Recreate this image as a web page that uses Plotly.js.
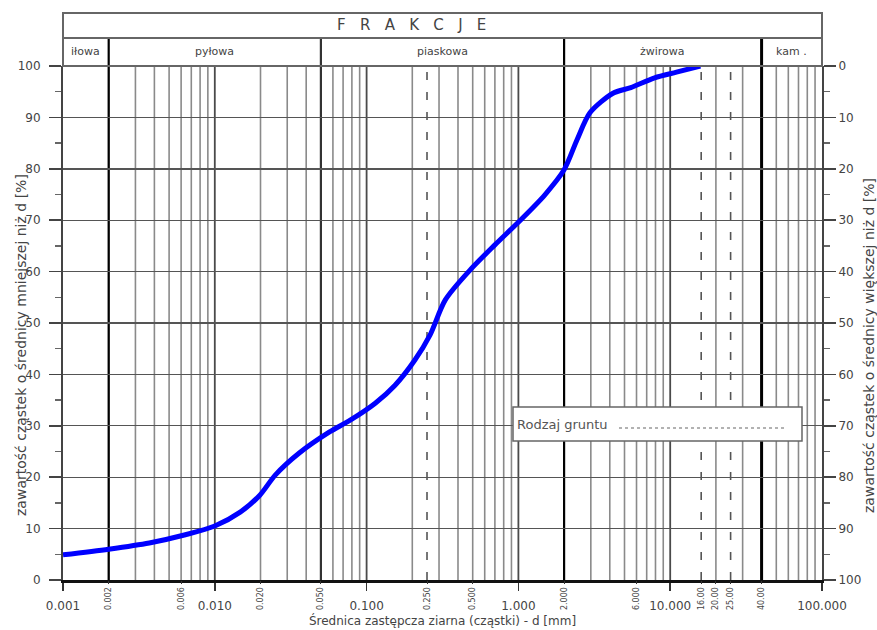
<!DOCTYPE html>
<html>
<head>
<meta charset="utf-8">
<script src="https://cdn.plot.ly/plotly-3.0.1.min.js"></script>
<style>html,body{margin:0;padding:0;background:#fff;}#chart{width:877px;height:630px;}</style>
</head>
<body>
<div id="chart"></div>
<script>
// grain diameter d [mm] and percent finer
const grainSize = [0.001, 0.002, 0.0037, 0.0064, 0.01, 0.0147, 0.0198, 0.025, 0.036, 0.057, 0.078, 0.114, 0.154, 0.208, 0.262, 0.33, 0.48, 0.70, 1.03, 1.49, 2.0, 2.43, 2.96, 4.2, 5.5, 7.9, 11.0, 15.8];
const percentFiner = [4.9, 6.0, 7.2, 8.8, 10.5, 13.2, 16.5, 20.4, 24.7, 28.8, 31.1, 34.4, 37.9, 42.8, 47.7, 54.5, 60.3, 65.2, 70.0, 74.9, 79.8, 85.6, 90.9, 94.7, 95.8, 97.7, 98.8, 100];

const decadeTicks = [0.001, 0.01, 0.1, 1, 10, 100];
const decadeLabels = ["0.001", "0.010", "0.100", "1.000", "10.000", "100.000"];
const sieveTicks = [0.002, 0.006, 0.02, 0.05, 0.25, 0.5, 2, 6, 16, 20, 25, 40];
const sieveLabels = ["0.002", "0.006", "0.020", "0.050", "0.250", "0.500", "2.000", "6.000", "16.00", "20.00", "25.00", "40.00"];

const fractionNames = ["iłowa", "pyłowa", "piaskowa", "żwirowa", "kam ."];
const fractionBounds = [0.001, 0.002, 0.05, 2, 40, 100];
const dashedLines = [0.25, 16, 25];
const gridMultipliers = [1, 2, 3, 4, 5, 6, 7, 8, 9];

const headerTitle = "F\u00a0\u00a0 R\u00a0\u00a0 A\u00a0\u00a0 K\u00a0\u00a0 C\u00a0\u00a0 J\u00a0\u00a0 E";
const yTitleLeft = "zawartość cząstek o średnicy mniejszej niż d [%]";
const yTitleRight = "zawartość cząstek o średnicy większej niż d [%]";
const xTitle = "Średnica zastępcza ziarna (cząstki) - d [mm]";
const soilLabel = "Rodzaj gruntu";

const L = Math.log10;
const FONT = 'DejaVu Sans, Liberation Sans, Arial, sans-serif';
// pixel -> paper helpers (plot area: x 63..822, y 66..580)
const px = p => (p - 63) / 759;
const py = p => (580 - p) / 514;

const shapes = [];
// vertical log grid (shapes on log axes take data values)
for (let e = -3; e <= 1; e++) {
  gridMultipliers.forEach(m => {
    const v = m * Math.pow(10, e);
    if (e === -3 && m === 1) return;
    const isDecade = m === 1;
    shapes.push({type: 'line', xref: 'x', yref: 'paper', x0: v, x1: v, y0: 0, y1: 1,
      line: {color: isDecade ? '#4a4a4a' : '#8a8a8a', width: isDecade ? 1.8 : 1.6}, layer: 'below'});
  });
}
// dashed sieve lines
dashedLines.forEach(v => {
  shapes.push({type: 'line', xref: 'x', yref: 'paper', x0: v, x1: v, y0: 0, y1: 1,
    line: {color: '#555', width: 1.6, dash: '8px,12px'}, layer: 'below'});
});
// fraction boundary lines (plot + header)
fractionBounds.slice(1, -1).forEach((v, i) => {
  shapes.push({type: 'line', xref: 'x', yref: 'paper', x0: v, x1: v, y0: 0, y1: py(38),
    line: {color: i === 1 ? '#333' : '#000', width: i === 3 ? 3 : 2.2}, layer: 'below'});
});
// header frame
shapes.push({type: 'rect', xref: 'paper', yref: 'paper', x0: 0, x1: 1, y0: 1, y1: py(13), line: {color: '#666', width: 2}});
shapes.push({type: 'line', xref: 'paper', yref: 'paper', x0: 0, x1: 1, y0: py(38), y1: py(38), line: {color: '#666', width: 2}});
// soil type box
shapes.push({type: 'rect', xref: 'paper', yref: 'paper', x0: px(513), x1: px(802),
  y0: py(441), y1: py(407), fillcolor: '#fff', line: {color: '#666', width: 1.5}, layer: 'above'});
shapes.push({type: 'line', xref: 'paper', yref: 'paper', x0: px(619), x1: px(787),
  y0: py(428), y1: py(428), line: {color: '#999', width: 1.5, dash: 'dot'}, layer: 'above'});

const annotations = [];
annotations.push({xref: 'paper', yref: 'paper', x: px(411), y: py(25), yanchor: 'middle', text: headerTitle, showarrow: false,
  font: {family: FONT, size: 15, color: '#444'}});
fractionNames.forEach((n, i) => {
  const mid = (L(fractionBounds[i]) + L(fractionBounds[i + 1])) / 2; // annotations on log axes use log values
  annotations.push({xref: 'x', yref: 'paper', x: mid, y: py(51), yanchor: 'middle', text: n, showarrow: false,
    font: {family: FONT, size: 11, color: '#444'}});
});
annotations.push({xref: 'paper', yref: 'paper', x: px(515), y: py(424), xanchor: 'left', yanchor: 'middle',
  text: soilLabel, showarrow: false, font: {family: FONT, size: 13, color: '#555'}});
annotations.push({xref: 'paper', yref: 'paper', x: px(21), y: py(345), xanchor: 'center', yanchor: 'middle', textangle: -90,
  text: yTitleLeft, showarrow: false, font: {family: FONT, size: 14, color: '#444'}});
annotations.push({xref: 'paper', yref: 'paper', x: px(869), y: py(346), xanchor: 'center', yanchor: 'middle', textangle: -90,
  text: yTitleRight, showarrow: false, font: {family: FONT, size: 14, color: '#444'}});

const data = [
  {x: grainSize, y: percentFiner, type: 'scatter', mode: 'lines', line: {color: '#0000ff', width: 5, shape: 'spline', smoothing: 0.8}, hoverinfo: 'x+y', showlegend: false},
  {x: [0.001, 100], y: [100, 0], xaxis: 'x2', yaxis: 'y2', type: 'scatter', mode: 'markers', marker: {opacity: 0}, showlegend: false, hoverinfo: 'skip'}
];

const layout = {
  width: 877, height: 630,
  margin: {l: 63, r: 55, t: 66, b: 50},
  paper_bgcolor: '#fff', plot_bgcolor: '#fff',
  font: {family: FONT, size: 11, color: '#333'},
  showlegend: false,
  xaxis: {
    type: 'log', range: [-3, 2], tickmode: 'array', tickvals: decadeTicks, ticktext: decadeLabels,
    ticks: 'outside', ticklen: 8, tickcolor: '#333', tickwidth: 1.5, ticklabelstandoff: 5,
    showgrid: false, zeroline: false, showline: true, linecolor: '#111', linewidth: 2.5, mirror: false,
    tickfont: {family: FONT, size: 12, color: '#444'},
    title: {text: xTitle, font: {family: FONT, size: 12, color: '#444'}, standoff: 0}
  },
  xaxis2: {
    type: 'log', range: [-3, 2], overlaying: 'x', anchor: 'y', side: 'bottom', tickmode: 'array',
    tickvals: sieveTicks, ticktext: sieveLabels, tickangle: -90, ticks: 'outside', ticklen: 3, tickcolor: '#333',
    showgrid: false, zeroline: false, showline: false,
    tickfont: {family: FONT, size: 8, color: '#444'}
  },
  yaxis: {
    range: [0, 100], dtick: 10, ticks: 'outside', ticklen: 12, tickcolor: '#444', tickwidth: 1.5,
    ticklabelstandoff: 6,
    showgrid: true, gridcolor: '#555', gridwidth: 1.4, zeroline: false, showline: true, linecolor: '#444', linewidth: 2,
    minor: {dtick: 5, ticks: 'outside', ticklen: 6, tickcolor: '#666', showgrid: false},
    tickfont: {family: FONT, size: 12, color: '#444'}
  },
  yaxis2: {
    range: [100, 0], dtick: 10, overlaying: 'y', side: 'right', anchor: 'x', ticks: 'outside', ticklen: 12,
    tickcolor: '#444', tickwidth: 1.5, showgrid: false, zeroline: false, showline: true, linecolor: '#444', linewidth: 2,
    minor: {dtick: 5, ticks: 'outside', ticklen: 6, tickcolor: '#666', showgrid: false},
    tickfont: {family: FONT, size: 12, color: '#444'}
  },
  shapes: shapes,
  annotations: annotations
};

Plotly.newPlot('chart', data, layout, {displayModeBar: false, staticPlot: true});
</script>
</body>
</html>
